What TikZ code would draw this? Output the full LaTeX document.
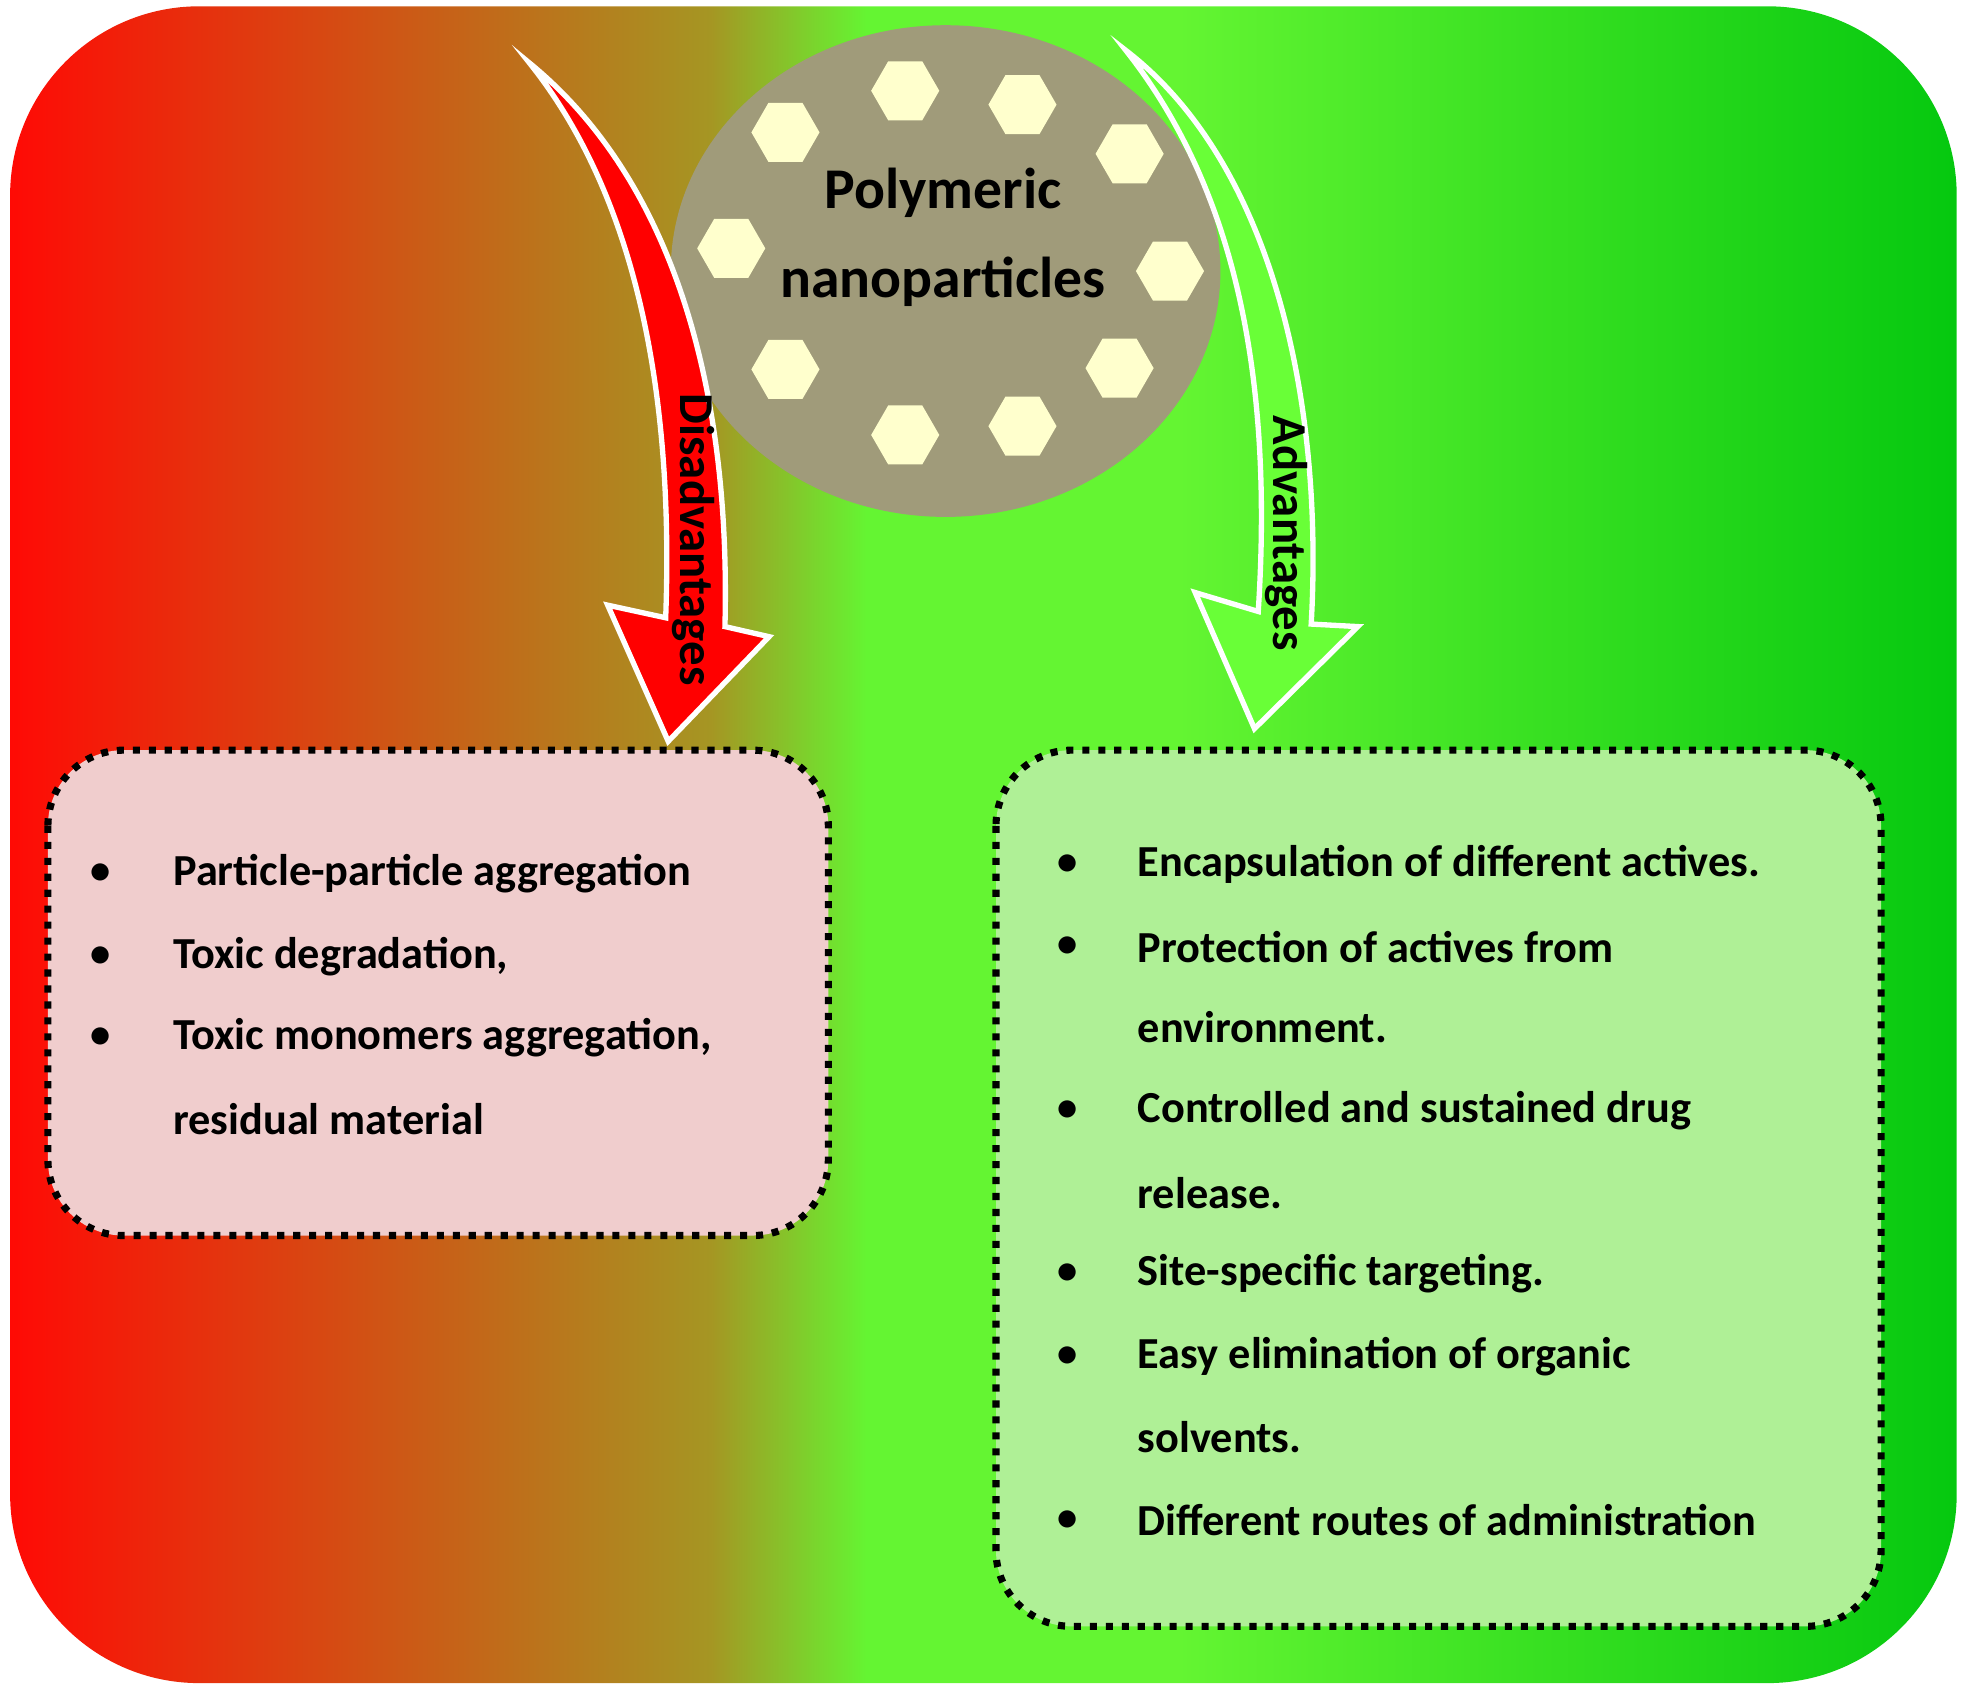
\documentclass[tikz,border=0pt]{standalone}
\usepackage{fontspec}
\setmainfont{Carlito}
\usetikzlibrary{shapes.geometric}
\definecolor{bgred}{RGB}{255,10,5}
\definecolor{bgolive}{RGB}{165,150,35}
\definecolor{bglime}{RGB}{100,245,50}
\definecolor{bggreen}{RGB}{5,200,15}
\definecolor{npgray}{RGB}{160,155,122}
\definecolor{hexfill}{RGB}{255,255,205}
\definecolor{arrowgreen}{RGB}{105,255,55}
\definecolor{badfill}{RGB}{240,205,205}
\definecolor{goodfill}{RGB}{175,240,150}
\pgfdeclarehorizontalshading{redgreen}{100bp}{color(0bp)=(bgred); color(25bp)=(bgred); color(43bp)=(bgolive); color(47bp)=(bglime); color(55bp)=(bglime); color(75bp)=(bggreen); color(100bp)=(bggreen)}
\tikzset{
  hex/.style={regular polygon, regular polygon sides=6, fill=hexfill, draw=none, minimum size=0.54cm, inner sep=0pt},
  listbox/.style={draw=black, line width=1.6pt, dotted, rounded corners=0.6cm},
  item/.style={anchor=west, font=\fontsize{10}{12}\selectfont\bfseries},
  dot/.style={font=\fontsize{10}{12}\selectfont\bfseries}
}
\begin{document}
\begin{tikzpicture}[x=0.01cm, y=-0.01cm]
\useasboundingbox (0,0) rectangle (1557,1343);
\shade[shading=redgreen, rounded corners=1.5cm] (8,5) rectangle (1552,1335);
% nanoparticle
\fill[npgray] (750,215) ellipse [x radius=218, y radius=195];
\foreach \hx/\hy [count=\i] in {623/105,718/72,811/83,896/122,580/197,928/215,623/293,888/292,718/345,811/338}
  \node[hex] (h\i) at (\hx,\hy) {};
\node[align=center, font=\fontsize{13}{20}\selectfont\bfseries] (np) at (748,188) {Polymeric\\nanoparticles};
% arrows
\filldraw[fill=red, draw=white, line width=1.2pt] (420,50) .. controls (530,140) and (580,300) .. (575,497) -- (610,505) -- (530,588) -- (482,480) -- (528,490) .. controls (535,300) and (500,150) .. (420,50) -- cycle;
\filldraw[fill=arrowgreen, draw=white, line width=1.2pt] (893,40) .. controls (1010,130) and (1050,320) .. (1040,495) -- (1077,497) -- (995,578) -- (948,470) -- (998,485) .. controls (1010,300) and (980,150) .. (893,40) -- cycle;
\node[rotate=-90, font=\fontsize{11}{13}\selectfont\bfseries] (dis) at (550,428) {Disadvantages};
\node[rotate=-90, font=\fontsize{11}{13}\selectfont\bfseries] (adv) at (1020,423) {Advantages};
% boxes
\filldraw[listbox, fill=badfill] (38,595) rectangle (657,980);
\filldraw[listbox, fill=goodfill] (790,595) rectangle (1492,1290);
\foreach \ty/\txt [count=\i] in {693/Particle-particle aggregation,759/{Toxic degradation,},823/{Toxic monomers aggregation,}}{
  \node[dot] (bd\i) at (80,\ty) {$\bullet$};
  \node[item] (bt\i) at (125,\ty) {\txt};
}
\node[item] (bt4) at (125,888) {residual material};
\foreach \ty/\txt [count=\i] in {686/Encapsulation of different actives.,751/Protection  of actives from,881/Controlled and sustained drug,1010/Site-specific targeting.,1076/Easy elimination of organic,1206/Different routes of administration}{
  \node[dot] (gd\i) at (847,\ty) {$\bullet$};
  \node[item] (gt\i) at (890,\ty) {\txt};
}
\node[item] (gc1) at (890,815) {environment.};
\node[item] (gc2) at (890,946) {release.};
\node[item] (gc3) at (890,1140) {solvents.};
\end{tikzpicture}
\end{document}
